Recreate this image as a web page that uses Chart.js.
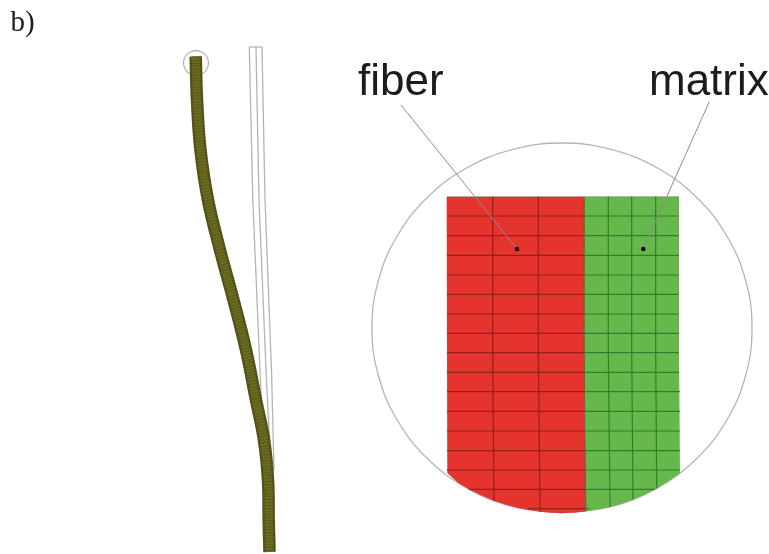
<!DOCTYPE html>
<html>
<head>
<meta charset="utf-8">
<title>b)</title>
<script src="https://cdn.jsdelivr.net/npm/chart.js@4"></script>
<style>
  html, body { margin: 0; padding: 0; background: #fff; }
  canvas { display: block; }
</style>
</head>
<body>
<canvas id="plot" width="769" height="554"></canvas>
<script>

// deformed beam, centre line
var beamX = [195.7, 197, 200.5, 208, 220, 233.5, 246, 256, 264, 268, 268.7, 269.5];
var beamY = [56.5, 100, 150, 200, 250, 300, 350, 400, 440, 480, 520, 552];

// undeformed beam outline
var outlineLeftX = [249.3, 252.8, 260, 263.5];
var outlineLeftY = [47, 200, 370, 450];
var outlineMidX = [256, 259, 266, 271];
var outlineMidY = [47, 200, 370, 470];
var outlineRightX = [262, 265, 271.5, 274];
var outlineRightY = [47, 200, 370, 470];
var outlineTopX = [249.3, 262];
var outlineTopY = [47, 47];

// small circle at the beam tip, starts and ends hidden under the beam
var tipCircleX = [196, 202.3, 206.8, 208.5, 206.8, 202.3, 196, 189.7, 185.2, 183.5, 185.2, 189.7, 196];
var tipCircleY = [75.5, 73.8, 69.2, 63, 56.8, 52.2, 50.5, 52.2, 56.8, 63, 69.2, 73.8, 75.5];

// big circle, zoom of the tip, starts and ends hidden under the mesh
var bigCircleX = [562, 611, 657, 696.4, 726.5, 745.5, 752, 745.5, 726.5, 696.4, 657, 611, 562, 513, 467, 427.6, 397.5, 378.5, 372, 378.5, 397.5, 427.6, 467, 513, 562];
var bigCircleY = [513, 506.7, 488.2, 458.8, 420.5, 376, 328, 280, 235.5, 197.2, 167.8, 149.3, 143, 149.3, 167.8, 197.2, 235.5, 280, 328, 376, 420.5, 458.8, 488.2, 506.7, 513];

// fiber and matrix patches
var fiberX = [446.7, 584.3, 584.3, 585.7, 574, 562, 551, 540, 528, 517, 505, 494, 482, 470, 458, 447.3, 446.7];
var fiberY = [196.7, 196.7, 350, 511.5, 512.8, 513, 512.7, 511.8, 510, 507.7, 504.5, 500.7, 495.8, 490, 482.8, 473, 196.7];
var matrixX = [584.3, 679, 679, 680, 668, 656.7, 645, 633, 621, 610, 598, 585.7, 584.3];
var matrixY = [196.7, 196.7, 350, 473, 481.6, 488.4, 494.4, 499.6, 503.9, 507, 509.6, 511.5, 196.7];

// mesh rows, split at the fiber/matrix border
var rowY = [216, 235.7, 255.3, 275, 294.3, 314, 333.3, 352.7, 372.3, 391.7, 411.3, 431, 450.7, 470, 489.3, 508.7];
var rowLeft = [447, 447, 447, 447, 447, 447, 447, 447, 447, 447, 447, 447, 447, 447, 469, 528];
var rowMid = [584.3, 584.3, 584.3, 584.3, 584.3, 584.3, 584.3, 584.3, 584.8, 585, 585, 585, 585.2, 585.4, 585.5, 585.7];
var rowRight = [679, 679, 679, 679, 679, 679, 679, 679, 679, 680, 680, 680, 680, 680, 655, 590];

// mesh columns
var colTopX = [492.7, 538.3, 584.3, 608.3, 631.7, 655.7];
var colMidX = [492.7, 538.3, 584.3, 608.3, 631.7, 655.7];
var colBottomX = [494, 540, 585.7, 610, 633, 656.7];
var colBottomY = [500.7, 511.8, 511.5, 507, 499.6, 488.4];
var colColors = ["#93211d", "#93211d", "#5f6b3a", "#2f7f30", "#2f7f30", "#2f7f30"];

// leader lines and their dots
var leaderFiberX = [401, 517];
var leaderFiberY = [105, 249];
var leaderMatrixX = [709.3, 643.3];
var leaderMatrixY = [101.7, 249];
var dotX = [517, 643.3];
var dotY = [249, 249];

// labels
var labelTexts = ["b)", "fiber", "matrix"];
var labelX = [10.5, 358, 649];
var labelY = [31, 95, 95];
var labelFonts = ["29px 'Liberation Serif'", "44px 'Liberation Sans'", "44px 'Liberation Sans'"];

function pts(xs, ys) {
  var out = [];
  for (var i = 0; i < xs.length; i++) out.push({ x: xs[i], y: ys[i] });
  return out;
}

function line(xs, ys, color, width, extra) {
  var d = {
    data: pts(xs, ys),
    showLine: true,
    borderColor: color,
    borderWidth: width,
    pointRadius: 0,
    fill: false,
    tension: 0
  };
  for (var k in extra) d[k] = extra[k];
  return d;
}

var grey = "#b4b4b4";
var sets = [];

sets.push(line(bigCircleX, bigCircleY, grey, 1.3, { tension: 0.4 }));
sets.push(line(tipCircleX, tipCircleY, grey, 1.3, { tension: 0.4 }));
sets.push(line(outlineLeftX, outlineLeftY, grey, 1.3));
sets.push(line(outlineMidX, outlineMidY, grey, 1.3));
sets.push(line(outlineRightX, outlineRightY, grey, 1.3));
sets.push(line(outlineTopX, outlineTopY, grey, 1.3));

// beam: dark body, lighter core, element lines on top
sets.push(line(beamX, beamY, "#55561a", 12.5, { tension: 0.4, borderCapStyle: "butt" }));
sets.push(line(beamX, beamY, "#6b6b22", 8, { tension: 0.4, borderCapStyle: "butt" }));
sets.push(line(beamX, beamY, "rgba(60,60,15,0.35)", 12.5, { tension: 0.4, borderCapStyle: "butt", borderDash: [1, 2] }));

sets.push(line(fiberX, fiberY, "#e5332e", 0, { fill: "shape", backgroundColor: "#e5332e" }));
sets.push(line(matrixX, matrixY, "#66b84a", 0, { fill: "shape", backgroundColor: "#66b84a" }));

for (var r = 0; r < rowY.length; r++) {
  sets.push(line([rowLeft[r], rowMid[r]], [rowY[r], rowY[r]], "#93211d", 1.2));
  sets.push(line([rowMid[r], rowRight[r]], [rowY[r], rowY[r]], "#2f7f30", 1.2));
}
sets.push(line([447, 679], [196.7, 196.7], "rgba(90,90,90,0.4)", 1));
for (var c = 0; c < colTopX.length; c++) {
  sets.push(line([colTopX[c], colMidX[c], colBottomX[c]], [196.7, 350, colBottomY[c]], colColors[c], 1.2));
}

sets.push(line(leaderFiberX, leaderFiberY, "#8c8c8c", 1));
sets.push(line(leaderMatrixX, leaderMatrixY, "#8c8c8c", 1));
sets.push({ data: pts(dotX, dotY), pointRadius: 2.2, pointBackgroundColor: "#000", pointBorderWidth: 0, showLine: false });

// first dataset is drawn on top by default, we want the reverse
sets.forEach(function (d, i) { d.order = -i; });

var labelPlugin = {
  id: "labels",
  afterDraw: function (chart) {
    var ctx = chart.ctx;
    ctx.save();
    ctx.fillStyle = "#1c1c1c";
    ctx.textBaseline = "alphabetic";
    for (var i = 0; i < labelTexts.length; i++) {
      ctx.font = labelFonts[i];
      ctx.fillText(labelTexts[i], chart.scales.x.getPixelForValue(labelX[i]), chart.scales.y.getPixelForValue(labelY[i]));
    }
    ctx.restore();
  }
};

new Chart(document.getElementById("plot").getContext("2d"), {
  type: "scatter",
  data: { datasets: sets },
  plugins: [labelPlugin],
  options: {
    responsive: false,
    animation: false,
    layout: { padding: 0, autoPadding: false },
    plugins: { legend: { display: false }, tooltip: { enabled: false } },
    scales: {
      x: { type: "linear", min: 0, max: 769, display: false },
      y: { type: "linear", min: 0, max: 554, reverse: true, display: false }
    }
  }
});
</script>
</body>
</html>
